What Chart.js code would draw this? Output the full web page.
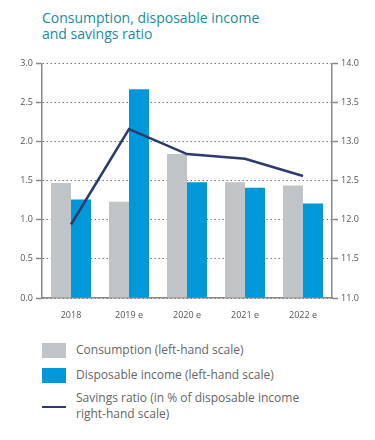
<html>
<head>
<script src="https://cdn.jsdelivr.net/npm/chart.js@4.4.0/dist/chart.umd.min.js"></script>
<style>
  body { margin: 0; width: 375px; height: 440px; background: #fff; font-family: "Open Sans", sans-serif; position: relative; overflow: hidden; }
  #title { position: absolute; left: 42px; top: 10px; color: #1b8b9c; font-size: 14px; line-height: 16px; }
  #wrap { position: absolute; left: 0; top: 55px; width: 375px; height: 265px; }
  .leg { position: absolute; left: 42px; color: #666; font-size: 12px; line-height: 16px; }
  .box { position: absolute; left: 0; width: 24px; height: 15px; }
  .txt { position: absolute; left: 34px; white-space: nowrap; }
</style>
</head>
<body>
<div id="title">Consumption, disposable income<br>and savings ratio</div>
<div id="wrap"><canvas id="myChart"></canvas></div>

<div class="leg" style="top:343px"><div class="box" style="background:#c0c4c7"></div><div class="txt" style="top:-1px">Consumption (left-hand scale)</div></div>
<div class="leg" style="top:368px"><div class="box" style="background:#0098d8"></div><div class="txt" style="top:-1px">Disposable income (left-hand scale)</div></div>
<div class="leg" style="top:390px"><div class="box" style="top:16px;height:2px;background:#2b3b6e"></div><div class="txt" style="top:0">Savings ratio (in % of disposable income<br>right-hand scale)</div></div>

<script>
  // values
  var years = ['2018', '2019 e', '2020 e', '2021 e', '2022 e'];
  var consumption = [1.47, 1.23, 1.84, 1.48, 1.44];
  var income = [1.26, 2.67, 1.48, 1.41, 1.21];
  var savings = [11.94, 13.16, 12.84, 12.78, 12.56];

  var axisGrey = '#8a8a8a';
  var tickFont = { family: 'Open Sans', size: 9 };

  var ctx = document.getElementById('myChart').getContext('2d');
  var chart = new Chart(ctx, {
    type: 'bar',
    data: {
      labels: years,
      datasets: [
        {
          type: 'line',
          label: 'Savings ratio',
          data: savings,
          yAxisID: 'y1',
          borderColor: '#2b3b6e',
          borderWidth: 2.5,
          pointRadius: 0,
          tension: 0,
          order: 0
        },
        {
          label: 'Consumption',
          data: consumption,
          backgroundColor: '#c0c4c7',
          yAxisID: 'y',
          order: 1
        },
        {
          label: 'Disposable income',
          data: income,
          backgroundColor: '#0098d8',
          yAxisID: 'y',
          order: 1
        }
      ]
    },
    options: {
      responsive: true,
      maintainAspectRatio: false,
      animation: false,
      layout: { padding: { top: 8, bottom: 0, left: 0, right: 0 } },
      datasets: { bar: { categoryPercentage: 0.69, barPercentage: 1.0 } },
      plugins: { legend: { display: false }, tooltip: { enabled: false } },
      scales: {
        x: {
          grid: { display: false },
          border: { color: axisGrey, width: 1.5 },
          ticks: { color: '#555', font: tickFont, padding: 4, maxRotation: 0 },
          afterFit: function (s) { s.height = 22; }
        },
        y: {
          position: 'left',
          min: 0, max: 3,
          grid: { color: '#777', lineWidth: 1, tickLength: 6, tickColor: axisGrey, tickBorderDash: [], tickWidth: 1.5 },
          border: { color: axisGrey, width: 1.5, dash: [1.5, 2.5] },
          ticks: { stepSize: 0.5, color: '#555', font: tickFont, padding: 3,
            callback: function (v) { return v.toFixed(1); } },
          afterFit: function (s) { s.width = 42; }
        },
        y1: {
          position: 'right',
          min: 11, max: 14,
          grid: { drawOnChartArea: false, tickLength: 6, tickColor: axisGrey, tickWidth: 1.5 },
          border: { color: axisGrey, width: 1.5 },
          ticks: { stepSize: 0.5, color: '#555', font: tickFont, padding: 3,
            callback: function (v) { return v.toFixed(1); } },
          afterFit: function (s) { s.width = 43; }
        }
      }
    }
  });
</script>
</body>
</html>
